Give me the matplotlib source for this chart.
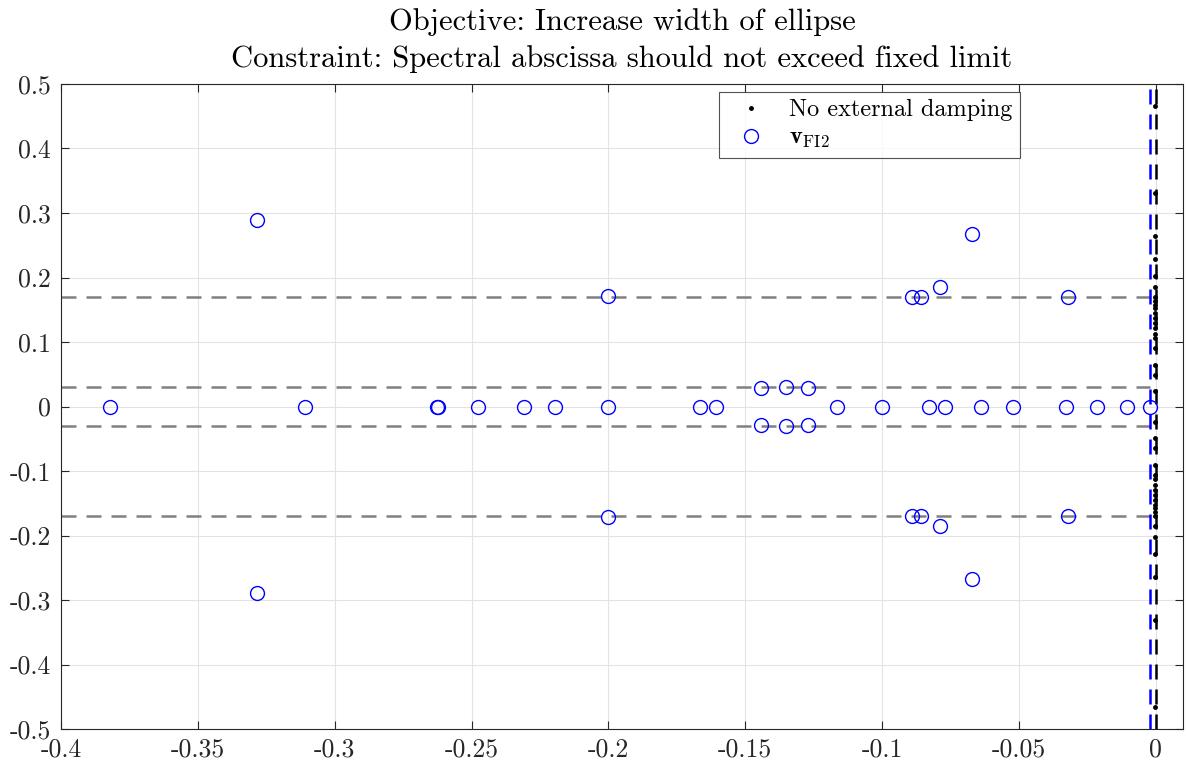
import matplotlib
matplotlib.use("Agg")
import matplotlib.pyplot as plt
from matplotlib.ticker import FuncFormatter, MultipleLocator

plt.rcParams['font.family'] = 'serif'
plt.rcParams['font.serif'] = ['cmr10']
plt.rcParams['mathtext.fontset'] = 'cm'
plt.rcParams['axes.unicode_minus'] = False

# Black dots: no external damping (imag parts, symmetric)
nodamp_imag_pos = [0.466, 0.331, 0.265, 0.229, 0.203, 0.185, 0.170, 0.164, 0.158,
                   0.152, 0.145, 0.137, 0.129, 0.121, 0.113, 0.106, 0.090, 0.064,
                   0.049, 0.024]
nodamp_real = -0.0003

# Blue circles: v_FI2
real_only = [-0.382, -0.3107, -0.2625, -0.2622, -0.2478, -0.2307, -0.2195, -0.2,
             -0.1665, -0.1608, -0.1163, -0.1, -0.0827, -0.0771, -0.0640, -0.0521,
             -0.0327, -0.0216, -0.0107, -0.0023]
pair_real = [-0.3282, -0.2, -0.1442, -0.135, -0.1271, -0.0891, -0.0857, -0.079, -0.0671, -0.0322]
pair_imag = [0.289, 0.172, 0.029, 0.030, 0.029, 0.1695, 0.170, 0.1845, 0.268, 0.170]

hlines_y = [0.17, 0.03, -0.03, -0.17]
limit_x = -0.0021
zero_x = 0.0

fig = plt.figure(figsize=(11.86, 7.67), dpi=100)
ax = fig.add_axes([0.0514, 0.0495, 0.946, 0.841])

for yv in hlines_y:
    ax.plot([-0.4, limit_x], [yv, yv], color='#808080', lw=1.8, dashes=(6, 4), zorder=2)
ax.axvline(zero_x, color='black', lw=1.8, dashes=(6, 4), zorder=2)
ax.axvline(limit_x, color='blue', lw=1.8, dashes=(6, 4), zorder=3)

dx = [nodamp_real] * (2 * len(nodamp_imag_pos))
dy = nodamp_imag_pos + [-v for v in nodamp_imag_pos]
ax.plot(dx, dy, linestyle='none', marker='.', color='black', markersize=5,
        label='No external damping', zorder=4)

cx = real_only + pair_real + pair_real
cy = [0.0] * len(real_only) + pair_imag + [-v for v in pair_imag]
ax.plot(cx, cy, linestyle='none', marker='o', markerfacecolor='none',
        markeredgecolor='blue', markersize=10, markeredgewidth=1.0,
        label=r'$\mathbf{v}_{\mathrm{FI2}}$', zorder=5)

ax.set_xlim(-0.4, 0.0099)
ax.set_ylim(-0.5, 0.5)
ax.xaxis.set_major_locator(MultipleLocator(0.05))
ax.yaxis.set_major_locator(MultipleLocator(0.1))

def fmt(v, pos):
    if abs(v) < 1e-12:
        return '0'
    return '%g' % round(v, 4)

ax.xaxis.set_major_formatter(FuncFormatter(fmt))
ax.yaxis.set_major_formatter(FuncFormatter(fmt))
ax.tick_params(direction='in', top=True, right=True, labelsize=18.5, length=6,
               colors='#262626', width=0.8)
ax.tick_params(axis='x', pad=6)
ax.tick_params(axis='y', pad=7)
ax.grid(True, color='#e3e3e3', lw=0.8, zorder=0)
ax.set_axisbelow(True)
for s in ax.spines.values():
    s.set_color('#262626')
    s.set_linewidth(0.8)

ax.set_title('Objective: Increase width of ellipse\nConstraint: Spectral abscissa should not exceed fixed limit',
             fontsize=22, linespacing=1.45, pad=12)

leg = ax.legend(loc='upper left', bbox_to_anchor=(0.5865, 0.988), borderaxespad=0,
                fontsize=17.5, frameon=True, fancybox=False, edgecolor='#262626',
                handlelength=2.0, borderpad=0.3, labelspacing=0.25, handletextpad=0.6)
leg.get_frame().set_linewidth(0.8)

fig.savefig('out.png', dpi=100)
